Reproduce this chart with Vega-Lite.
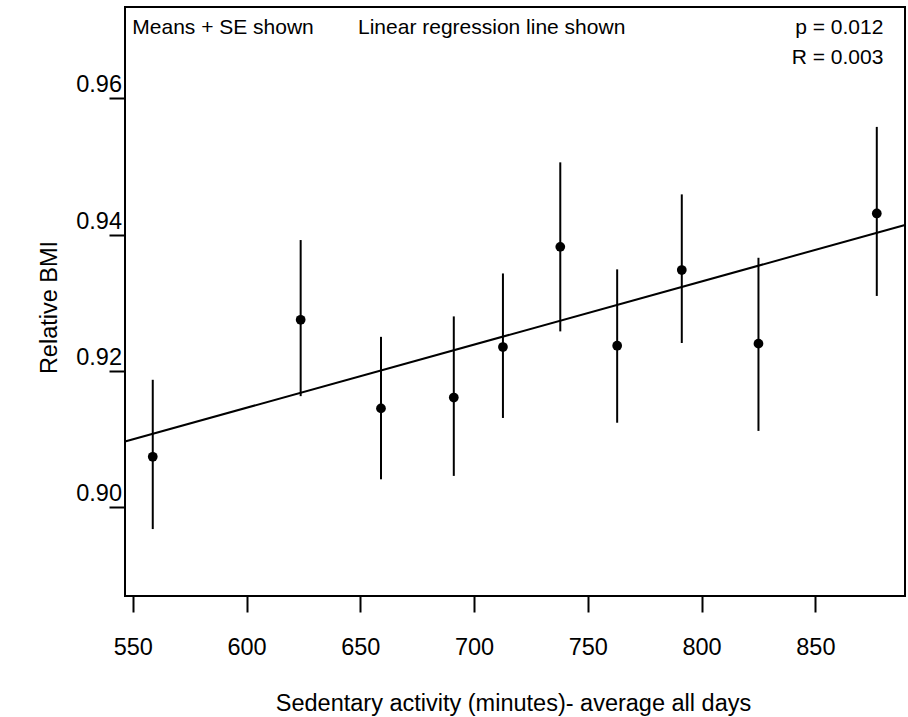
{
  "$schema": "https://vega.github.io/schema/vega-lite/v6.json",
  "width": 780,
  "height": 589,
  "autosize": {"type": "none"},
  "padding": {"left": 125, "top": 7, "right": 3, "bottom": 121},
  "background": "white",
  "config": {
    "font": "Liberation Sans",
    "view": {"stroke": "#000000", "strokeWidth": 2},
    "text": {"font": "Liberation Sans", "fontSize": 21, "color": "#000000"},
    "axis": {
      "grid": false,
      "domain": false,
      "tickColor": "#000000",
      "tickWidth": 2,
      "tickSize": 16,
      "labelColor": "#000000",
      "labelFont": "Liberation Sans",
      "labelFontSize": 23.5,
      "titleColor": "#000000",
      "titleFont": "Liberation Sans",
      "titleFontSize": 23.5,
      "titleFontWeight": "normal"
    }
  },
  "datasets": {
    "means": [
      {"minutes": 558.8, "bmi": 0.9074, "lo": 0.8968, "hi": 0.9187},
      {"minutes": 623.8, "bmi": 0.9275, "lo": 0.9163, "hi": 0.9392},
      {"minutes": 659.1, "bmi": 0.9145, "lo": 0.9041, "hi": 0.9250},
      {"minutes": 691.1, "bmi": 0.9161, "lo": 0.9046, "hi": 0.9280},
      {"minutes": 712.7, "bmi": 0.9235, "lo": 0.9131, "hi": 0.9343},
      {"minutes": 737.9, "bmi": 0.9382, "lo": 0.9258, "hi": 0.9506},
      {"minutes": 762.9, "bmi": 0.9237, "lo": 0.9124, "hi": 0.9349},
      {"minutes": 791.3, "bmi": 0.9348, "lo": 0.9241, "hi": 0.9459},
      {"minutes": 825.0, "bmi": 0.9240, "lo": 0.9112, "hi": 0.9366},
      {"minutes": 877.0, "bmi": 0.9431, "lo": 0.9310, "hi": 0.9558}
    ],
    "fit": [
      {"minutes": 546.6, "bmi": 0.90965},
      {"minutes": 889.4, "bmi": 0.94141}
    ]
  },
  "layer": [
    {
      "data": {"name": "fit"},
      "mark": {"type": "line", "color": "#000000", "strokeWidth": 2},
      "encoding": {
        "x": {
          "field": "minutes",
          "type": "quantitative",
          "scale": {"domain": [546.6, 889.4], "nice": false, "zero": false},
          "axis": {
            "values": [550, 600, 650, 700, 750, 800, 850],
            "labelPadding": 23,
            "labelBaseline": "top",
            "title": "Sedentary activity (minutes)- average all days",
            "titleBaseline": "alphabetic",
            "titleX": 388,
            "titleY": 114
          }
        },
        "y": {
          "field": "bmi",
          "type": "quantitative",
          "scale": {"domain": [0.88698, 0.97339], "nice": false, "zero": false},
          "axis": {
            "values": [0.90, 0.92, 0.94, 0.96],
            "format": ".2f",
            "labelAlign": "right",
            "labelBaseline": "alphabetic",
            "labelOffset": -6.5,
            "labelPadding": -12.5,
            "title": "Relative BMI",
            "titleBaseline": "alphabetic",
            "titleAlign": "center",
            "titleAngle": -90,
            "titleX": -69,
            "titleY": 300
          }
        }
      }
    },
    {
      "data": {"name": "means"},
      "mark": {"type": "rule", "color": "#000000", "strokeWidth": 2},
      "encoding": {
        "x": {"field": "minutes", "type": "quantitative"},
        "y": {"field": "lo", "type": "quantitative"},
        "y2": {"field": "hi"}
      }
    },
    {
      "data": {"name": "means"},
      "mark": {"type": "point", "shape": "circle", "filled": true, "color": "#000000", "opacity": 1, "size": 95},
      "encoding": {
        "x": {"field": "minutes", "type": "quantitative"},
        "y": {"field": "bmi", "type": "quantitative"}
      }
    },
    {
      "data": {"values": [{"note": "Means + SE shown"}]},
      "mark": {"type": "text", "align": "left", "baseline": "alphabetic"},
      "encoding": {
        "x": {"datum": 549.8},
        "y": {"datum": 0.96939},
        "text": {"field": "note", "type": "nominal"}
      }
    },
    {
      "data": {"values": [{"note": "Linear regression line shown"}]},
      "mark": {"type": "text", "align": "left", "baseline": "alphabetic"},
      "encoding": {
        "x": {"datum": 649.0},
        "y": {"datum": 0.96939},
        "text": {"field": "note", "type": "nominal"}
      }
    },
    {
      "data": {"values": [{"note": "p = 0.012"}]},
      "mark": {"type": "text", "align": "right", "baseline": "alphabetic"},
      "encoding": {
        "x": {"datum": 879.9},
        "y": {"datum": 0.96939},
        "text": {"field": "note", "type": "nominal"}
      }
    },
    {
      "data": {"values": [{"note": "R = 0.003"}]},
      "mark": {"type": "text", "align": "right", "baseline": "alphabetic"},
      "encoding": {
        "x": {"datum": 879.9},
        "y": {"datum": 0.96499},
        "text": {"field": "note", "type": "nominal"}
      }
    }
  ]
}
